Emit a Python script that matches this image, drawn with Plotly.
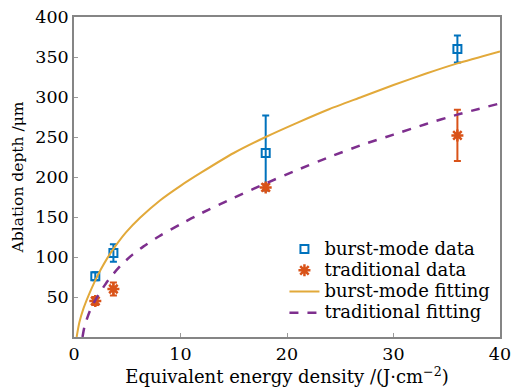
import plotly.graph_objects as go

# measured data
burst_x = [2, 3.7, 18, 36]
burst_y = [76, 105, 230, 360]
burst_err = [5, 11, 47, 17]

trad_x = [2, 3.7, 18, 36]
trad_y = [45, 60, 187, 252]
trad_err = [5, 8, 4, 32]

# fitting curves
burst_fit_x = [0.25, 0.5, 0.9, 1.4, 1.9, 2.5, 3.1, 3.8, 4.9, 6.2, 8.1, 10, 12, 15, 18, 21, 24, 27, 30, 33, 36, 40]
burst_fit_y = [0, 18, 36, 53, 68, 84, 98, 112, 131, 149, 171, 189, 206, 230, 250, 268, 285, 300, 315, 329, 342, 357]

trad_fit_x = [0.8, 1.0, 1.5, 2.0, 2.5, 3.0, 3.7, 4.5, 5.5, 6.5, 8, 10, 12, 15, 18, 21, 24, 27, 30, 33, 36, 40]
trad_fit_y = [0, 14, 33, 46, 57, 67, 79, 91, 103, 113, 126, 141, 155, 174, 192, 209, 225, 240, 253, 266, 278, 292]

x_ticks = [0, 10, 20, 30, 40]
y_ticks = [50, 100, 150, 200, 250, 300, 350, 400]

legend_names = ["burst-mode data", "traditional data", "burst-mode fitting", "traditional fitting"]

BLUE = "#0072BD"
RED = "#D95319"
GOLD = "#E2A93A"
PURPLE = "#7E2F8E"
FONT = "DejaVu Serif"


def big(t):
    return '<span style="font-size:18px">' + t + '</span>'


fig = go.Figure()

fig.add_trace(go.Scatter(
    x=burst_x, y=burst_y, mode="markers", name=big(legend_names[0]),
    marker=dict(symbol="square-open", size=8, color=BLUE, line=dict(width=2, color=BLUE)),
    error_y=dict(type="data", array=burst_err, visible=True, color=BLUE, thickness=2, width=3.5),
))
fig.add_trace(go.Scatter(
    x=trad_x, y=trad_y, mode="markers", name=big(legend_names[1]),
    marker=dict(symbol="asterisk-open", size=10, color=RED, line=dict(width=2.5, color=RED)),
    error_y=dict(type="data", array=trad_err, visible=True, color=RED, thickness=2, width=3.5),
))
fig.add_trace(go.Scatter(
    x=burst_fit_x, y=burst_fit_y, mode="lines", name=big(legend_names[2]),
    line=dict(color=GOLD, width=2, shape="spline", smoothing=0.6),
))
fig.add_trace(go.Scatter(
    x=trad_fit_x, y=trad_fit_y, mode="lines", name=big(legend_names[3]),
    line=dict(color=PURPLE, width=2.5, dash="dash", shape="spline", smoothing=0.6),
))

axis_common = dict(
    showgrid=False, zeroline=False, showline=True, linecolor="#858585", linewidth=1.5,
    mirror=True, ticks="inside", ticklen=4, tickcolor="#9a9a9a", automargin=False,
    tickfont=dict(family=FONT, size=17.5, color="#000"),
)

fig.update_layout(
    width=513, height=392,
    margin=dict(l=74, r=13, t=17, b=55),
    paper_bgcolor="white", plot_bgcolor="white",
    font=dict(family=FONT, size=16, color="#000"),
    showlegend=True,
    legend=dict(x=0.494, y=0.3235, xanchor="left", yanchor="top",
                bgcolor="rgba(255,255,255,0)", borderwidth=0,
                font=dict(family=FONT, size=14, color="#000"),
                tracegroupgap=0, itemwidth=30),
    xaxis=dict(range=[0, 40], tickvals=x_ticks,
               title=dict(text="Equivalent energy density /(J·cm<sup>−2</sup>)",
                          font=dict(family=FONT, size=18), standoff=2),
               **axis_common),
    yaxis=dict(range=[0, 400], tickvals=y_ticks,
               title=dict(text="Ablation depth /μm", font=dict(family=FONT, size=15.5), standoff=8),
               **axis_common),
)

fig.write_html("out.html")
